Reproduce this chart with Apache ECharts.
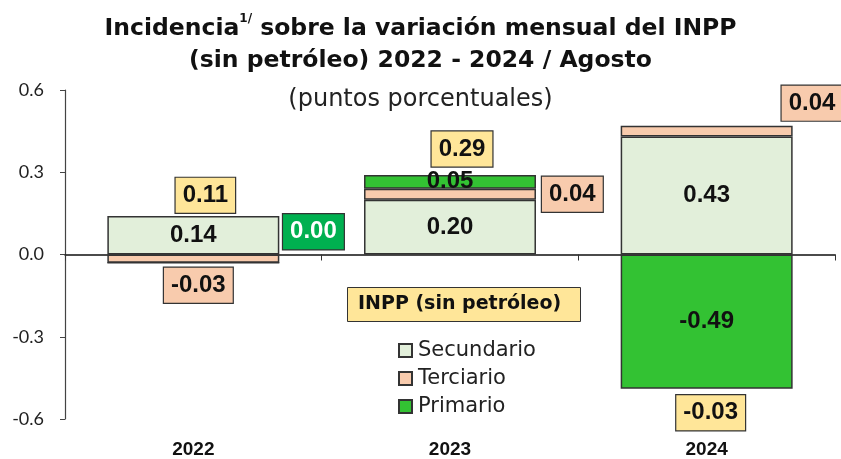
<!DOCTYPE html>
<html>
<head>
<meta charset="utf-8">
<script src="https://cdn.jsdelivr.net/npm/echarts@6/dist/echarts.min.js"></script>
<style>
  html, body { margin: 0; padding: 0; background: #fff; }
  #chart { width: 841px; height: 459px; }
</style>
</head>
<body>
<div id="chart"></div>
<script>
  // datos
  var years = ['2022', '2023', '2024']
  var secundario = [0.14, 0.20, 0.43]
  var terciario = [-0.03, 0.04, 0.04]
  var primario = [0.00, 0.05, -0.49]
  var totales = [0.11, 0.29, -0.03]
  var yTicks = [-0.6, -0.3, 0.0, 0.3, 0.6]

  var numFont = 'Liberation Sans'
  var txtFont = 'DejaVu Sans'

  function boxLabel(bg, color) {
    return {
      show: true,
      fontFamily: numFont,
      fontWeight: 'bold',
      fontSize: 24,
      color: color || '#111',
      backgroundColor: bg,
      borderColor: '#333',
      borderWidth: 1.2,
      padding: [6, 7, 5, 7],
      formatter: function (p) { return p.value.toFixed(2) }
    }
  }
  function plainLabel() {
    return {
      show: true,
      position: 'inside',
      fontFamily: numFont,
      fontWeight: 'bold',
      fontSize: 24,
      color: '#111',
      formatter: function (p) { return p.value.toFixed(2) }
    }
  }

  // etiquetas por punto (solo estilo)
  var secLabels = [plainLabel(), plainLabel(), plainLabel()]
  var terLabels = [
    Object.assign(boxLabel('#f8cbad'), { position: 'bottom', distance: 5, offset: [5, 0] }),
    Object.assign(boxLabel('#f8cbad'), { position: 'right', distance: 6 }),
    Object.assign(boxLabel('#f8cbad'), { position: 'right', distance: 0, offset: [-11, -28] })
  ]
  var priLabels = [
    Object.assign(boxLabel('#00b050', '#fff'), { position: 'right', distance: 3, offset: [0, -31] }),
    plainLabel(),
    plainLabel()
  ]
  var totOffsets = [[12, -29], [12, -26], [4, 150]]

  function items(vals, labels) {
    return vals.map(function (v, i) { return { value: v, label: labels[i] } })
  }

  var chart = echarts.init(document.getElementById('chart'))
  chart.setOption({
    animation: false,
    title: [{
      text: '{b|Incidencia}{sup|1/}{b| sobre la variación mensual del INPP}\n{b|(sin petróleo) 2022 - 2024 / Agosto}',
      left: 'center',
      top: 8,
      textStyle: {
        rich: {
          b: { fontFamily: txtFont, fontWeight: 'bold', fontSize: 23.5, color: '#111', lineHeight: 32 },
          sup: { fontFamily: txtFont, fontWeight: 'bold', fontSize: 12, color: '#111', lineHeight: 32, verticalAlign: 'top', padding: [0, 0, 12, 0] }
        }
      }
    }, {
      text: '(puntos porcentuales)',
      left: 'center',
      top: 83,
      textStyle: { fontFamily: txtFont, fontWeight: 'normal', fontSize: 24, color: '#222' }
    }, {
      text: 'INPP (sin petróleo)',
      left: 347,
      top: 287,
      backgroundColor: '#ffe699',
      borderColor: '#333',
      borderWidth: 1,
      padding: [8, 20, 8, 11],
      textStyle: { fontFamily: txtFont, fontWeight: 'bold', fontSize: 19, color: '#111' }
    }],
    legend: {
      orient: 'vertical',
      left: 398,
      top: 340,
      padding: 0,
      icon: 'rect',
      itemWidth: 13,
      itemHeight: 13,
      itemGap: 7,
      textStyle: { fontFamily: txtFont, fontSize: 21, color: '#222', padding: [0, 0, 0, 1] },
      data: ['Secundario', 'Terciario', 'Primario']
    },
    grid: { left: 65, right: 6, top: 90, bottom: 39 },
    xAxis: [{
      type: 'category',
      data: years,
      position: 'bottom',
      axisLine: { show: false, onZero: false },
      axisTick: { show: false },
      axisLabel: { fontFamily: numFont, fontWeight: 'bold', fontSize: 19, color: '#111', margin: 21 }
    }, {
      type: 'category',
      data: years,
      position: 'bottom',
      axisLine: { show: true, onZero: true, lineStyle: { color: '#111', width: 1.5 } },
      axisTick: { show: true, length: 6, lineStyle: { color: '#333' } },
      axisLabel: { show: false }
    }],
    yAxis: {
      type: 'value',
      min: yTicks[0],
      max: yTicks[yTicks.length - 1],
      interval: 0.3,
      splitLine: { show: false },
      axisLine: { show: true, lineStyle: { color: '#444', width: 1.2 } },
      axisTick: { show: true, length: 5, lineStyle: { color: '#444' } },
      axisLabel: {
        fontFamily: 'Lato', fontSize: 18, color: '#222', margin: 21,
        formatter: function (v) { return v.toFixed(1) }
      }
    },
    series: [{
      name: 'Secundario',
      type: 'bar',
      stack: 'inpp',
      barWidth: '67%',
      itemStyle: { color: '#e2efda', borderColor: '#333', borderWidth: 1.5 },
      data: items(secundario, secLabels)
    }, {
      name: 'Terciario',
      type: 'bar',
      stack: 'inpp',
      itemStyle: { color: '#f8cbad', borderColor: '#333', borderWidth: 1.5 },
      data: items(terciario, terLabels)
    }, {
      name: 'Primario',
      type: 'bar',
      stack: 'inpp',
      itemStyle: { color: '#33c233', borderColor: '#333', borderWidth: 1.5 },
      data: items(primario, priLabels)
    }, {
      name: 'INPP (sin petróleo)',
      type: 'scatter',
      symbolSize: 0,
      silent: true,
      z: 5,
      itemStyle: { opacity: 1 },
      data: totales.map(function (v, i) {
        return { value: v, label: Object.assign(boxLabel('#ffe699'), { position: 'inside', offset: totOffsets[i] }) }
      })
    }]
  })
</script>
</body>
</html>
